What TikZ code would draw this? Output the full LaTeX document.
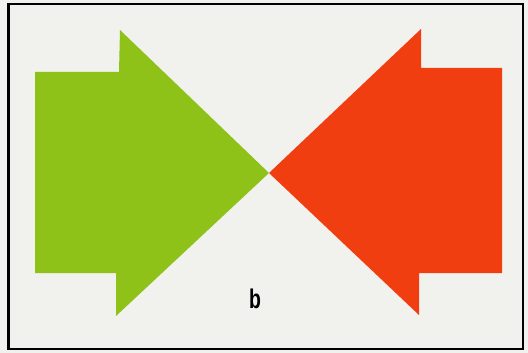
\documentclass[tikz,border=0pt]{standalone}
\usepackage{fontspec}
\newfontfamily\labelfont{Liberation Sans}
\usetikzlibrary{positioning}
\definecolor{paper}{RGB}{241,241,238}
\definecolor{arrowgreen}{RGB}{142,194,24}
\definecolor{arrowred}{RGB}{240,62,16}
\tikzset{
  frame/.style={
    draw = black,
    line width = 2.6pt,
  },
  greenarrow/.style={
    fill = arrowgreen,
  },
  redarrow/.style={
    fill = arrowred,
  },
  panel/.style={
    font = \labelfont\bfseries\fontsize{27}{27}\selectfont,
    xscale = 0.72,
    inner sep = 0pt,
  }
}
\begin{document}
\begin{tikzpicture}[x=1pt,y=-1pt]
\fill[paper] (0,0) rectangle (528,353);
\useasboundingbox (0,0) rectangle (528,353);
\draw[frame] (8.5,4) rectangle (523,349);
% left arrow, pointing right
\coordinate (tip) at (269,173);
\fill[greenarrow] (35,72) -- (119,72) -- (120,30) -- (tip)
  -- (116,316) -- (116,273) -- (35,273) -- cycle;
% right arrow, pointing left
\fill[redarrow] (502,68) -- (421,68) -- (421,29) -- (tip)
  -- (419,315) -- (419,273) -- (502,273) -- cycle;
\node[panel] (b) at (255,299) {b};
\end{tikzpicture}
\end{document}
